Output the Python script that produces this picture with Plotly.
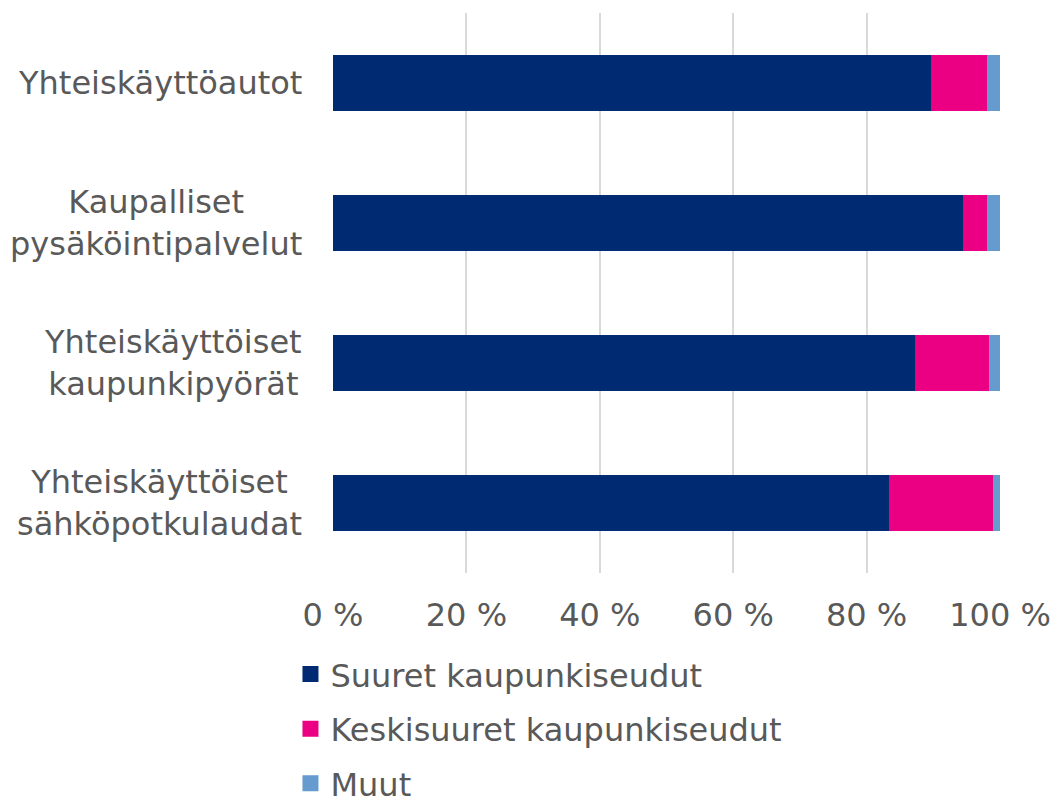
import plotly.graph_objects as go

categories = ["Yhteiskäyttöautot", "Kaupalliset pysäköintipalvelut",
              "Yhteiskäyttöiset kaupunkipyörät", "Yhteiskäyttöiset sähköpotkulaudat"]
category_labels = ["Yhteiskäyttöautot", "Kaupalliset<br>pysäköintipalvelut",
                   "Yhteiskäyttöiset<br>kaupunkipyörät", "Yhteiskäyttöiset<br>sähköpotkulaudat"]
series_names = ["Suuret kaupunkiseudut", "Keskisuuret kaupunkiseudut", "Muut"]
suuret = [89.7, 94.5, 87.3, 83.3]
keskisuuret = [8.4, 3.6, 11.0, 15.6]
muut = [1.9, 1.9, 1.7, 1.1]
x_ticks = [0, 20, 40, 60, 80, 100]

colors = ["#002B72", "#EC0083", "#659BCF"]
text_color = "#595959"
font_family = "DejaVu Sans, Verdana, sans-serif"
fs = 32

fig = go.Figure()
for i, (name, vals) in enumerate(zip(series_names, [suuret, keskisuuret, muut])):
    fig.add_trace(go.Bar(
        y=categories, x=vals, name=name, orientation="h",
        marker=dict(color=colors[i], line=dict(width=0)),
        legendgroup=f"g{i}", showlegend=False,
    ))
# legend entries with larger square swatches
for i, name in enumerate(series_names):
    fig.add_trace(go.Scatter(
        x=[None], y=[None], mode="markers", name=name,
        marker=dict(symbol="square", size=16, color=colors[i], line=dict(width=0)),
        legendgroup=f"g{i}", showlegend=True, hoverinfo="skip",
    ))

for cat, lab in zip(categories, category_labels):
    fig.add_annotation(
        x=0, xref="paper", y=cat, yref="y", text=lab, showarrow=False,
        xanchor="right", yanchor="middle", align="center", xshift=-29,
        font=dict(size=fs, color=text_color, family=font_family),
    )

fig.update_layout(
    width=1052, height=791,
    barmode="stack", bargap=0.6,
    plot_bgcolor="white", paper_bgcolor="white",
    margin=dict(l=325, r=60, t=5, b=226, autoexpand=False),
    font=dict(family=font_family, size=fs, color=text_color),
    showlegend=True,
    legend=dict(
        orientation="v", xref="container", yref="container",
        x=0.2685, y=0.1925, xanchor="left", yanchor="top",
        traceorder="grouped", tracegroupgap=10, itemsizing="trace",
        font=dict(size=fs, color=text_color, family=font_family),
    ),
    xaxis=dict(
        range=[0, 100], tickvals=x_ticks, ticktext=[f"{v} %" for v in x_ticks],
        showgrid=True, gridcolor="#D9D9D9", gridwidth=1.5,
        zeroline=False, showline=False, ticks="",
        ticklabelstandoff=20,
        tickfont=dict(size=fs, color=text_color, family=font_family),
    ),
    yaxis=dict(
        categoryorder="array", categoryarray=categories, autorange="reversed",
        showticklabels=False, showgrid=False, zeroline=False, showline=False,
    ),
)

fig.write_html("out.html")
